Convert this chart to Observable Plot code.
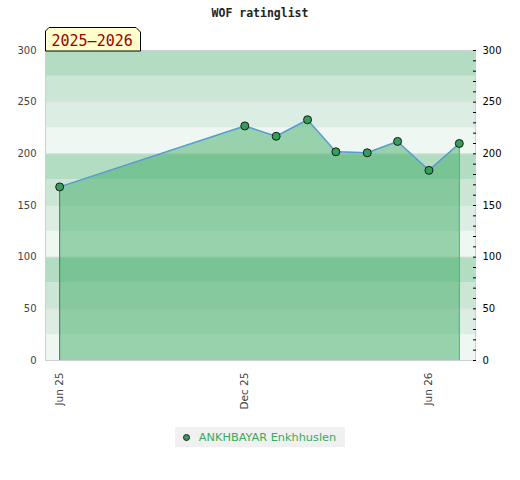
<!DOCTYPE html>
<html><head><meta charset="utf-8">
<script src="https://cdn.jsdelivr.net/npm/d3@7"></script>
<script src="https://cdn.jsdelivr.net/npm/@observablehq/plot@0.6"></script>
<style>
body{margin:0;background:#fff;font-family:"DejaVu Sans",sans-serif;}
#title{height:25px;text-align:center;font:bold 11.5px "DejaVu Sans Mono",monospace;color:#222;line-height:26px;}
#wrap{position:relative;width:520px;height:395px;}
#chart svg{display:block;}
#badge{position:absolute;left:45px;top:2px;}
#legend{display:flex;justify-content:center;margin-top:7px;width:520px;}
#legend .box{display:flex;align-items:center;background:#f0f0f0;padding:0 9px 0 8px;height:20px;font-size:11.3px;color:#3aaa5e;}
#legend .dot{width:7px;height:7px;border-radius:50%;background:#33a05a;border:1px solid #222;margin-right:9px;box-sizing:border-box;}
</style></head>
<body>
<div id="title">WOF ratinglist</div>
<div id="wrap"><div id="chart"></div>
<svg id="badge" width="97" height="25"><polygon points="4,0.5 91,0.5 95.5,5 95.5,24 0.5,24 0.5,4" fill="#ffffcc" stroke="#000" stroke-width="1"/><text x="6.5" y="18.5" fill="#990000" font-family="DejaVu Sans Mono" font-size="15">2025–2026</text></svg>
</div>
<div id="legend"><span class="box"><span class="dot"></span>ANKHBAYAR Enkhhuslen</span></div>
<script>
const playerName = "ANKHBAYAR Enkhhuslen";
const dates = ["2025-06-01","2025-12-01","2026-01-01","2026-02-01","2026-03-01","2026-04-01","2026-05-01","2026-06-01","2026-07-01"];
const ratings = [168,227,217,233,202,201,212,184,210];
const yTicks = [0,50,100,150,200,250,300];
const yMinorTicks = [0,10,20,30,40,50,60,70,80,90,100,110,120,130,140,150,160,170,180,190,200,210,220,230,240,250,260,270,280,290,300];
const xTicks = ["2025-06-01","2025-12-01","2026-06-01"];
const xDomain = ["2025-05-18","2026-07-17"];
const bandStarts = [0,25,50,75,100,125,150,175,200,225,250,275];
const bandColors = ["#eef7f1","#dceee3","#cbe6d5","#b3ddc2"];

const data = dates.map((d,i)=>({date:new Date(d), rating:ratings[i]}));
const first = [data[0]], last = [data[data.length-1]];

const chart = Plot.plot({
  width:520, height:395,
  marginTop:25, marginBottom:60, marginLeft:45, marginRight:45,
  style:{fontFamily:"DejaVu Sans", fontSize:"10px", background:"transparent"},
  x:{type:"utc", domain:xDomain.map(d=>new Date(d))},
  y:{domain:[0,300]},
  color:{type:"identity"},
  marks:[
    Plot.rect(bandStarts, {y1:d=>d, y2:d=>d+25, fill:d=>bandColors[(d/25)%4]}),
    Plot.ruleY(yTicks, {stroke:"#dcdcdc", strokeWidth:1}),
    Plot.areaY(data, {x:"date", y:"rating", fill:"#3aaa63", fillOpacity:0.48}),
    Plot.link(first, {x1:"date", x2:"date", y1:d=>0, y2:"rating", stroke:"#2e8c50", strokeWidth:1}),
    Plot.link(last, {x1:"date", x2:"date", y1:d=>0, y2:"rating", stroke:"#3cc060", strokeWidth:1.2}),
    Plot.line(data, {x:"date", y:"rating", stroke:"#5b9bd5", strokeWidth:1.5}),
    Plot.dot(data, {x:"date", y:"rating", r:4, fill:"#33a05a", stroke:"#1a1a1a", strokeWidth:1}),
    Plot.frame({stroke:"#cfcfcf"}),
    Plot.axisY({anchor:"left", ticks:yTicks, tickSize:0, tickPadding:9, fill:"#444", label:null}),
    Plot.axisY({anchor:"right", ticks:yMinorTicks, tickSize:3, dx:-3, fill:"none", stroke:"#000", label:null}),
    Plot.axisY({anchor:"right", ticks:yTicks, tickSize:0, tickPadding:7, fill:"#000", label:null}),
    Plot.axisX({ticks:xTicks.map(d=>new Date(d)), tickFormat:d3.utcFormat("%b %y"), tickRotate:-90, tickSize:0, tickPadding:12, fill:"#444", fontSize:10.5, label:null})
  ]
});
document.getElementById("chart").appendChild(chart);
</script>
</body></html>
